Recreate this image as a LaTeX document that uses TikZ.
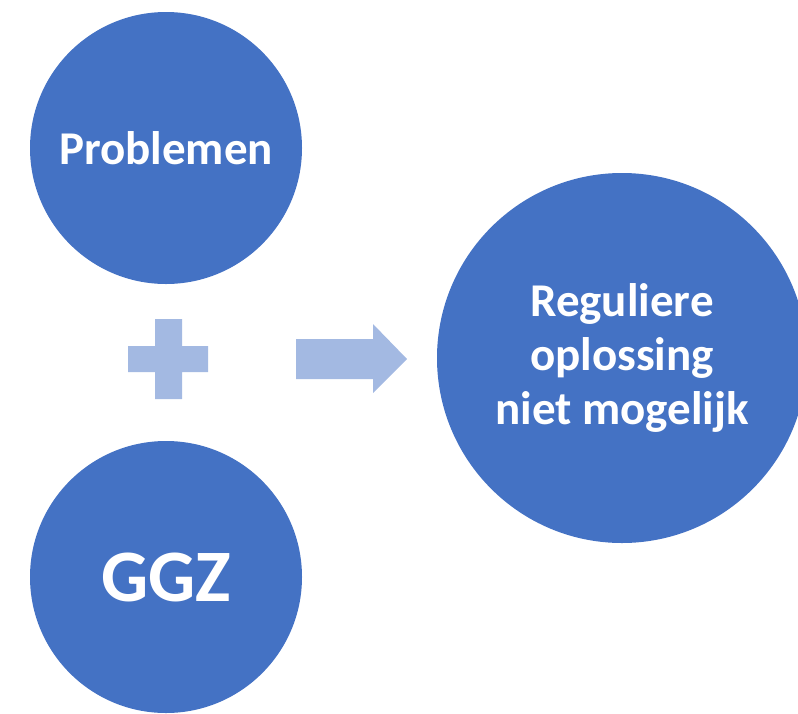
\documentclass[tikz,border=0pt]{standalone}
\usepackage{fontspec}
\setmainfont{Carlito}
\definecolor{blauw}{HTML}{4472C4}
\definecolor{lichtblauw}{HTML}{A3B9E2}
\tikzstyle{every node}=[font=\bfseries]
\tikzstyle{bol}=[circle,fill=blauw,text=white,inner sep=0pt,align=center]

\begin{document}
\begin{tikzpicture}[x=1pt,y=-1pt]
    \useasboundingbox (0,0) rectangle (798,713);

    % Circles
    \node [bol,minimum size=272,font=\bfseries\fontsize{47}{56}\selectfont] (prob) at (166,148) {Problemen};
    \node [bol,minimum size=272,font=\bfseries\fontsize{74}{90}\selectfont] (ggz) at (166,577) {GGZ};
    \node [bol,minimum size=370,font=\bfseries\fontsize{47}{54}\selectfont] (regul) at (622,358)
        {Reguliere\\oplossing\\niet mogelijk};

    % Plus sign
    \fill [lichtblauw]
        (155,319) -- (182,319) -- (182,346) -- (208,346) -- (208,372) -- (182,372)
        -- (182,399) -- (155,399) -- (155,372) -- (128,372) -- (128,346) -- (155,346) -- cycle;

    % Block arrow
    \fill [lichtblauw]
        (296,339) -- (373,339) -- (373,324) -- (407,359) -- (373,393) -- (373,379)
        -- (296,379) -- cycle;
\end{tikzpicture}
\end{document}
